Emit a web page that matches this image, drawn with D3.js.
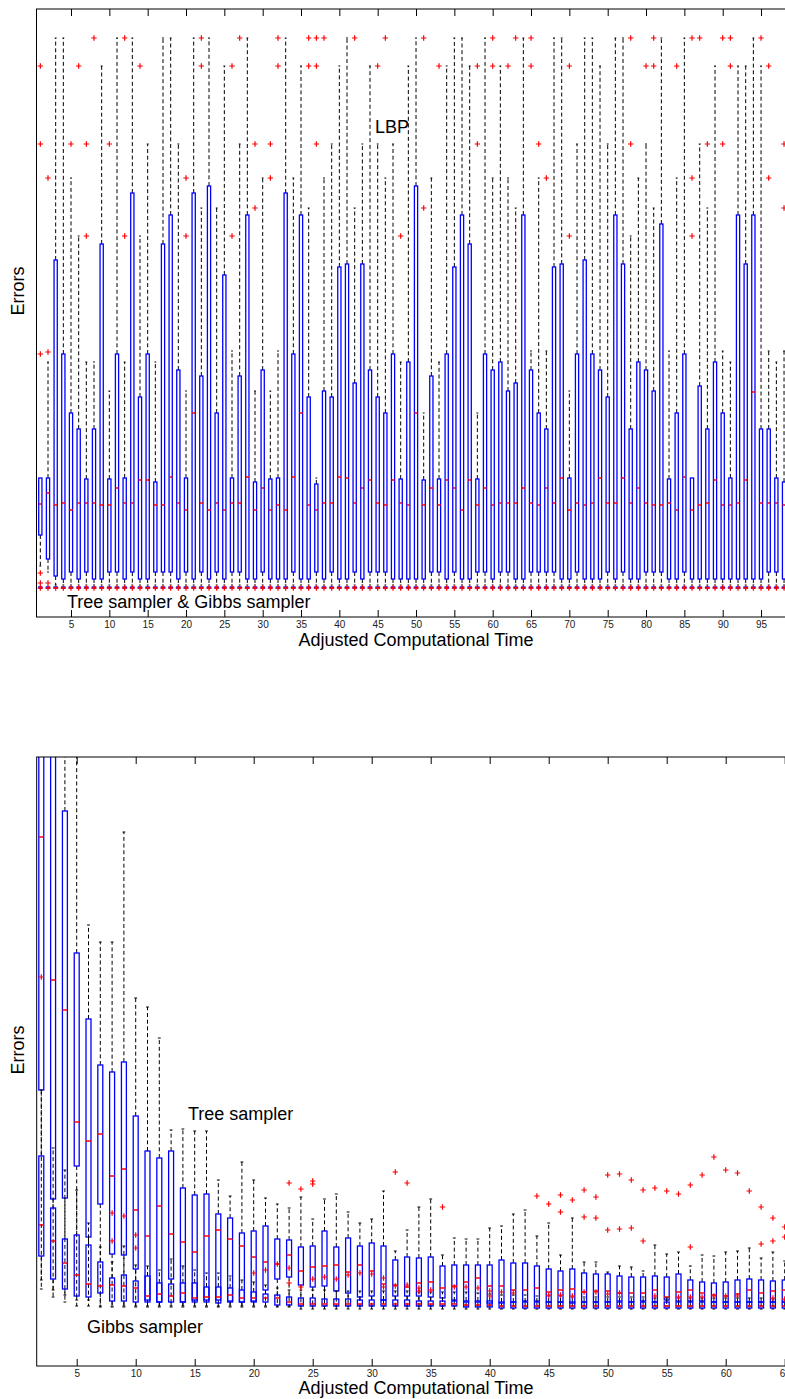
<!DOCTYPE html>
<html><head><meta charset="utf-8"><title>Errors vs Adjusted Computational Time</title>
<script src="https://cdn.jsdelivr.net/npm/d3@7/dist/d3.min.js"></script>
<style>html,body{margin:0;padding:0;background:#fff;overflow:hidden}svg{display:block}text{font-family:"Liberation Sans",Arial,Helvetica,sans-serif}</style>
</head><body>
<svg id="chart" width="785" height="1399"></svg>
<script>
// ---------- TOP PANEL DATA (LBP vs Tree/Gibbs samplers) ----------
const topCategories = d3.range(1, 101);
const topTicks = [5,10,15,20,25,30,35,40,45,50,55,60,65,70,75,80,85,90,95];
const lbpQ3 = [
 11.0,11.0,32.8,23.4,17.5,15.9,10.9,15.9,34.4,10.9,
 23.4,11.0,39.5,19.1,23.4,10.6,34.4,37.3,21.8,11.0,
 39.5,21.2,40.2,17.5,31.3,11.0,21.2,37.3,10.6,21.8,
 10.9,11.0,39.5,23.4,37.3,19.1,10.4,19.7,19.1,32.1,
 32.4,20.5,32.4,21.8,19.1,17.5,23.4,10.9,22.6,40.2,
 10.8,21.2,10.9,23.4,32.1,37.3,34.4,10.9,23.4,21.8,
 22.6,19.7,20.5,37.3,21.8,17.5,15.9,32.1,32.4,11.0,
 23.4,32.8,23.4,21.8,19.1,37.3,32.4,15.9,22.6,21.8,
 19.7,36.4,10.9,17.5,23.4,11.0,20.2,15.9,22.6,17.5,
 11.0,37.3,32.4,37.3,15.9,15.9,11.0,10.6,21.8,19.1];
const lbpQ1 = [
 5.3,2.9,1.2,0.9,1.6,0.9,1.6,0.9,0.9,1.6,
 1.6,0.9,1.6,0.9,0.9,1.6,1.6,1.6,0.9,1.6,
 0.9,1.6,0.9,1.6,0.9,1.6,1.6,0.9,0.9,1.6,
 0.9,0.9,0.9,1.6,0.9,0.9,1.6,0.9,1.6,0.9,
 0.9,1.6,0.9,1.6,1.6,1.6,0.9,0.9,0.9,0.9,
 0.9,1.6,1.6,0.9,1.6,0.9,0.9,1.6,1.6,0.9,
 1.6,1.6,0.9,0.9,1.6,1.6,1.6,1.6,0.9,0.9,
 1.6,0.9,0.9,0.9,1.6,0.9,1.6,0.9,0.9,1.6,
 1.6,1.6,0.9,0.9,1.6,0.9,0.9,0.9,0.9,0.9,
 0.9,0.9,0.9,0.9,0.9,1.6,1.6,0.9,1.6,0.9];
const lbpMed = [
 8.4,9.5,8.3,8.5,7.8,8.5,8.5,8.5,8.3,8.3,
 10.0,8.5,8.5,10.8,10.8,8.3,8.3,11.1,8.5,7.8,
 17.5,8.5,7.8,8.5,7.8,8.5,8.5,11.1,7.8,10.0,
 7.8,8.3,7.8,11.1,17.5,8.3,7.8,8.5,8.5,11.1,
 11.0,8.5,10.0,10.8,8.5,8.3,10.8,8.5,8.3,17.5,
 8.3,10.0,8.3,10.8,10.0,7.8,10.8,8.3,10.0,8.3,
 8.5,8.5,8.5,10.0,8.5,8.3,10.0,8.5,11.0,7.8,
 8.5,8.3,8.5,11.0,8.5,8.5,11.0,8.5,10.0,8.5,
 8.3,8.3,8.5,7.8,11.1,7.8,8.3,8.5,10.8,8.3,
 8.3,8.5,10.8,19.6,8.5,8.5,8.5,8.3,8.5,8.5];
const lbpHi = [
 11.0,22.6,55.0,55.0,41.0,35.2,22.6,22.6,52.2,19.7,
 55.0,22.6,55.0,35.2,44.4,22.6,55.0,55.0,44.4,19.7,
 55.0,38.0,55.0,38.0,52.2,23.7,44.4,55.0,19.7,41.0,
 19.7,23.7,55.0,41.0,52.2,38.0,11.0,41.0,44.4,52.2,
 55.0,38.0,44.4,52.2,44.4,41.0,44.4,22.6,52.2,55.0,
 17.5,41.0,22.6,52.2,55.0,55.0,52.2,17.5,55.0,41.0,
 52.2,41.0,38.0,55.0,23.7,41.0,23.7,55.0,55.0,19.7,
 44.4,55.0,55.0,52.2,44.4,55.0,55.0,35.2,41.0,44.4,
 38.0,55.0,23.7,41.0,55.0,11.0,44.4,38.0,52.2,23.7,
 22.6,52.2,52.2,55.0,52.2,23.7,22.6,23.7,41.0,52.2];
const lbpLo = [
 2.2,1.6,0.3,0.3,0.3,0.3,0.3,0.3,0.3,0.3,
 0.3,0.3,0.3,0.3,0.3,0.3,0.3,0.3,0.3,0.3,
 0.3,0.3,0.3,0.3,0.3,0.3,0.3,0.3,0.3,0.3,
 0.3,0.3,0.3,0.3,0.3,0.3,0.3,0.3,0.3,0.3,
 0.3,0.3,0.3,0.3,0.3,0.3,0.3,0.3,0.3,0.3,
 0.3,0.3,0.3,0.3,0.3,0.3,0.3,0.3,0.3,0.3,
 0.3,0.3,0.3,0.3,0.3,0.3,0.3,0.3,0.3,0.3,
 0.3,0.3,0.3,0.3,0.3,0.3,0.3,0.3,0.3,0.3,
 0.3,0.3,0.3,0.3,0.3,0.3,0.3,0.3,0.3,0.3,
 0.3,0.3,0.3,0.3,0.3,0.3,0.3,0.3,0.3,0.3];
const lbpOutliers = [
 [1,52.2],[1,44.4],[1,23.4],[1,1.5],[1,0.5],[2,41.0],[2,23.6],[2,0.5],
 [5,44.4],[6,52.2],[7,35.2],[7,44.4],[8,55.0],[10,44.4],[12,35.2],[12,55.0],[14,52.2],
 [20,41.0],[20,35.2],[22,55.0],[22,52.2],[26,35.2],[26,52.2],[27,55.0],[29,38.0],[29,44.4],
 [31,41.0],[31,44.4],[32,55.0],[32,52.2],[36,55.0],[36,52.2],[37,55.0],[37,52.2],[37,44.4],[38,55.0],
 [42,55.0],[45,52.2],[46,55.0],[48,35.2],[51,55.0],[51,38.0],[53,52.2],[58,52.2],[58,44.4],
 [60,55.0],[60,52.2],[62,52.2],[63,55.0],[65,55.0],[65,52.2],[66,44.4],[67,41.0],
 [70,35.2],[70,52.2],[78,55.0],[78,44.4],[80,52.2],[81,55.0],[81,52.2],[84,52.2],
 [86,55.0],[86,41.0],[86,35.2],[87,55.0],[88,44.4],[90,55.0],[90,44.4],[91,55.0],[91,52.2],
 [95,55.0],[96,52.2],[96,41.0],[98,44.4],[98,38.0]];
// LBP runs that also reach zero error (outlier at 0)
const lbpFloorOutlier = [
 0,0,0,0,0,0,0,0,0,0, 0,0,0,0,0,0,0,0,0,0, 0,0,0,0,0,0,0,0,0,0, 0,0,0,0,0,0,0,0,0,0,
 0,0,0,0,0,0,0,0,0,0, 0,0,0,0,0,0,0,0,0,0, 0,0,0,0,0,0,0,0,0,0, 0,0,0,0,0,0,0,0,0,0,
 0,0,0,0,0,0,0,0,0,0, 0,0,0,0,0,0,0,0,0,0];
// Tree sampler & Gibbs sampler in top panel: all near zero
const samplerTopQ3 = [
 0.1,0.1,0.1,0.1,0.1,0.1,0.1,0.1,0.1,0.1, 0.1,0.1,0.1,0.1,0.1,0.1,0.1,0.1,0.1,0.1,
 0.1,0.1,0.1,0.1,0.1,0.1,0.1,0.1,0.1,0.1, 0.1,0.1,0.1,0.1,0.1,0.1,0.1,0.1,0.1,0.1,
 0.1,0.1,0.1,0.1,0.1,0.1,0.1,0.1,0.1,0.1, 0.1,0.1,0.1,0.1,0.1,0.1,0.1,0.1,0.1,0.1,
 0.1,0.1,0.1,0.1,0.1,0.1,0.1,0.1,0.1,0.1, 0.1,0.1,0.1,0.1,0.1,0.1,0.1,0.1,0.1,0.1,
 0.1,0.1,0.1,0.1,0.1,0.1,0.1,0.1,0.1,0.1, 0.1,0.1,0.1,0.1,0.1,0.1,0.1,0.1,0.1,0.1];
const samplerTopFloor = 0;

// ---------- BOTTOM PANEL DATA (Tree sampler vs Gibbs sampler) ----------
const botCategories = d3.range(2, 66);
const botTicks = [5,10,15,20,25,30,35,40,45,50,55,60,65];
const treeQ3 = [
 61.0,59.0,49.9,35.7,29.1,24.5,23.8,24.8,19.4,15.9,
 15.2,15.9,12.2,11.5,11.6,9.6,9.2,7.7,7.9,8.4,
 7.1,7.0,6.3,6.4,7.9,6.3,7.2,6.4,6.7,6.4,
 5.0,5.3,5.2,5.3,4.4,4.5,4.5,4.5,4.5,5.0,
 4.7,4.7,4.4,4.1,3.9,4.1,3.7,3.6,3.6,3.4,
 3.3,3.3,3.4,3.3,3.6,3.0,2.8,2.7,2.8,3.0,
 3.1,3.0,2.9,3.0];
const treeQ1 = [
 22.0,11.1,11.2,14.4,7.3,10.6,5.6,5.5,4.1,1.0,
 0.8,3.1,0.8,1.0,1.0,1.0,0.9,0.8,0.9,2.0,
 3.1,3.3,2.5,2.3,2.4,1.9,1.7,1.3,1.4,1.0,
 1.4,1.4,1.4,1.3,1.2,1.0,0.8,0.8,0.7,0.7,
 0.8,0.9,0.9,0.8,0.8,0.7,0.8,0.8,0.8,0.9,
 0.8,0.9,0.8,1.0,0.9,0.9,0.9,0.8,0.8,0.8,
 0.8,0.8,0.8,0.8];
const treeMed = [
 47.3,33.0,30.0,18.8,16.9,17.6,13.4,14.1,10.0,7.4,
 10.4,7.6,6.8,5.8,7.4,8.0,7.1,6.4,5.3,4.8,
 4.6,5.5,3.9,4.3,4.4,4.5,3.8,4.5,3.9,2.6,
 2.5,2.3,2.7,2.8,2.2,2.4,2.8,3.2,2.4,2.4,
 2.0,2.0,2.2,1.8,2.0,2.1,1.8,1.9,1.9,1.7,
 1.7,1.7,2.0,1.3,1.8,2.0,1.7,1.5,1.4,1.6,
 2.0,1.7,1.9,2.0];
const treeHi = [
 66.0,66.0,66.0,61.0,38.5,36.8,36.8,47.8,31.2,30.3,
 27.2,18.0,18.1,17.9,17.9,13.0,11.4,14.8,13.0,11.2,
 10.6,10.2,11.3,9.1,11.1,11.6,9.8,8.7,9.1,11.9,
 5.9,8.0,10.3,11.1,5.5,7.2,7.1,7.1,8.2,8.4,
 9.6,10.0,7.4,8.7,5.5,9.2,4.8,4.8,3.8,4.4,
 4.3,3.9,6.5,5.6,5.8,4.4,5.5,5.4,5.8,5.9,
 6.2,5.2,5.8,4.9];
const treeLo = [
 3.0,2.0,1.5,1.0,1.0,0.4,0.4,0.4,0.4,0.4,
 0.4,0.4,0.4,0.4,0.4,0.4,0.4,0.4,0.4,0.4,
 0.4,0.4,0.4,0.4,0.4,0.4,0.4,0.4,0.4,0.4,
 0.4,0.4,0.4,0.4,0.4,0.4,0.4,0.4,0.4,0.4,
 0.4,0.4,0.4,0.4,0.4,0.4,0.4,0.4,0.4,0.4,
 0.4,0.4,0.4,0.4,0.4,0.4,0.4,0.4,0.4,0.4,
 0.4,0.4,0.4,0.4];
const treeOutliers = [
 [23,12.7],[24,12.1],[25,12.9],[25,12.6],[32,13.8],[33,12.7],[36,10.3],[44,11.4],[45,10.6],
 [46,11.5],[46,9.8],[47,11.0],[48,12.0],[48,9.3],[49,11.3],[49,9.2],[50,13.5],[50,8.0],
 [51,13.6],[51,8.1],[52,13.0],[52,8.2],[53,12.0],[53,6.9],[54,12.2],[55,11.9],[56,11.6],
 [57,12.5],[57,6.3],[58,13.5],[59,15.3],[60,14.0],[61,13.7],[62,11.9],[63,10.3],[63,6.6],
 [64,9.2],[64,6.9],[65,8.3],[65,7.3]];
const gibbsQ3 = [
 15.4,10.2,7.1,7.5,6.5,4.8,3.2,3.5,2.9,3.4,
 2.7,2.6,2.7,2.7,2.3,2.3,2.2,2.0,1.8,1.6,
 1.5,1.3,1.2,1.2,1.1,1.1,1.1,1.0,1.0,1.0,
 1.0,1.0,0.9,0.9,0.9,0.9,0.9,0.9,0.9,0.8,
 0.8,0.8,0.8,0.8,0.8,0.8,0.8,0.8,0.8,0.8,
 0.8,0.8,0.8,0.8,0.8,0.8,0.8,0.8,0.8,0.8,
 0.8,0.8,0.8,0.8];
const gibbsQ1 = [
 5.4,3.1,2.1,1.4,1.3,1.7,0.9,0.9,0.8,0.8,
 0.8,0.8,0.8,0.8,0.8,0.7,0.8,0.8,0.8,0.8,
 0.5,0.5,0.4,0.4,0.4,0.4,0.4,0.4,0.4,0.4,
 0.4,0.4,0.4,0.4,0.4,0.4,0.3,0.3,0.3,0.2,
 0.2,0.2,0.2,0.2,0.2,0.2,0.2,0.2,0.2,0.2,
 0.2,0.2,0.2,0.2,0.2,0.2,0.2,0.2,0.2,0.2,
 0.2,0.2,0.2,0.2];
const gibbsMed = [
 8.5,6.9,4.7,3.5,2.6,2.4,2.5,2.4,2.2,1.4,
 1.6,1.4,1.7,1.2,1.3,1.3,1.5,1.2,1.2,1.2,
 1.2,0.8,0.6,0.6,0.6,0.6,0.6,0.6,0.6,0.6,
 0.6,0.6,0.6,0.6,0.6,0.6,0.5,0.5,0.5,0.4,
 0.4,0.4,0.4,0.4,0.4,0.4,0.4,0.4,0.4,0.4,
 0.4,0.4,0.4,0.4,0.4,0.4,0.4,0.4,0.4,0.4,
 0.4,0.4,0.4,0.4];
const gibbsHi = [
 22.0,16.2,14.0,12.0,8.7,6.3,4.8,6.4,4.5,4.4,
 4.0,5.1,4.4,4.0,3.7,3.7,3.4,3.0,2.8,2.5,
 2.2,2.0,2.0,2.0,2.0,1.9,1.9,1.9,1.9,1.9,
 1.9,1.9,1.8,1.8,1.8,1.8,1.8,1.7,1.6,1.5,
 1.5,1.5,1.4,1.4,1.4,1.3,1.3,1.3,1.3,1.3,
 1.3,1.3,1.2,1.2,1.2,1.2,1.2,1.2,1.2,1.2,
 1.2,1.2,1.1,1.0];
const gibbsLo = [
 2.1,1.3,0.8,0.4,0.4,0.3,0.3,0.3,0.3,0.3,
 0.3,0.3,0.3,0.3,0.3,0.3,0.3,0.3,0.3,0.3,
 0.3,0.3,0.1,0.1,0.1,0.1,0.1,0.1,0.1,0.1,
 0.1,0.1,0.1,0.1,0.1,0.1,0.1,0.1,0.1,0.1,
 0.1,0.1,0.1,0.1,0.1,0.1,0.1,0.1,0.1,0.1,
 0.1,0.1,0.1,0.1,0.1,0.1,0.1,0.1,0.1,0.1,
 0.1,0.1,0.1,0.1];
const gibbsOutliers = [
 [2,33.3],[8,9.7],[8,6.9],[9,9.4],[10,7.5],[10,6.2],[20,3.7],[21,4.0],[22,4.6],[23,4.2],[23,2.7],
 [24,2.3],[25,3.1],[26,3.3],[27,3.1],[28,3.5],[29,3.7],[30,3.6],[31,3.2],[31,2.3],[32,2.4],[33,2.5],
 [34,2.2],[34,1.9],[35,2.0],[37,2.3],[38,2.3],[39,2.2],[40,1.9],[40,1.4],[41,1.8],[42,1.7],
 [45,1.5],[46,1.5],[47,1.4],[48,1.8],[49,1.8],[50,1.6],[51,1.7],[54,1.4],[56,1.3],[57,1.3],
 [58,1.3],[59,1.4],[60,1.4],[61,1.4],[64,1.2],[65,1.1]];

// ---------- DRAWING ----------
const svg = d3.select('#chart');
const FONT = '"Liberation Sans",Arial,Helvetica,sans-serif';

const xTop = d3.scaleLinear().domain([0.5, 100.5]).range([36.5, 803.2]);
const yTop = d3.scaleLinear().domain([-2.9, 57.9]).range([617, 9]);
const xBot = d3.scaleLinear().domain([1.61, 66.5]).range([36.7, 802.4]);
const yBot = d3.scaleLinear().domain([-5.6, 55.3]).range([1366, 757]);

const defs = svg.append('defs');
function clipFor(id, xs, ys) {
  const [x0, x1] = xs.range(); const [y1, y0] = ys.range();
  defs.append('clipPath').attr('id', id).append('rect')
    .attr('x', x0).attr('y', y0).attr('width', x1 - x0).attr('height', y1 - y0);
}
clipFor('clipTop', xTop, yTop);
clipFor('clipBot', xBot, yBot);

const BOXW = 0.21, CAPW = 0.12;
function drawBoxes(g, xs, ys, d) {
  const dash = '4,2.7';
  g.selectAll(null).data(d.filter(e => e.hi > e.q3)).join('line')
    .attr('x1', e => xs(e.p)).attr('x2', e => xs(e.p))
    .attr('y1', e => ys(e.q3)).attr('y2', e => ys(e.hi))
    .attr('stroke', '#000').attr('stroke-width', 1).attr('stroke-dasharray', dash);
  g.selectAll(null).data(d.filter(e => e.lo < e.q1)).join('line')
    .attr('x1', e => xs(e.p)).attr('x2', e => xs(e.p))
    .attr('y1', e => ys(e.q1)).attr('y2', e => ys(e.lo))
    .attr('stroke', '#000').attr('stroke-width', 1).attr('stroke-dasharray', dash);
  g.selectAll(null).data(d.filter(e => e.hi > e.q3)).join('line')
    .attr('x1', e => xs(e.p - CAPW)).attr('x2', e => xs(e.p + CAPW))
    .attr('y1', e => ys(e.hi)).attr('y2', e => ys(e.hi))
    .attr('stroke', '#000').attr('stroke-width', 1);
  g.selectAll(null).data(d.filter(e => e.lo < e.q1)).join('line')
    .attr('x1', e => xs(e.p - CAPW)).attr('x2', e => xs(e.p + CAPW))
    .attr('y1', e => ys(e.lo)).attr('y2', e => ys(e.lo))
    .attr('stroke', '#000').attr('stroke-width', 1);
  g.selectAll(null).data(d).join('rect')
    .attr('x', e => xs(e.p - BOXW)).attr('width', e => xs(e.p + BOXW) - xs(e.p - BOXW))
    .attr('y', e => ys(e.q3)).attr('height', e => Math.max(0.01, ys(e.q1) - ys(e.q3)))
    .attr('fill', 'none').attr('stroke', '#0000ff').attr('stroke-width', 1.3);
  g.selectAll(null).data(d).join('line')
    .attr('x1', e => xs(e.p - BOXW)).attr('x2', e => xs(e.p + BOXW))
    .attr('y1', e => ys(e.med)).attr('y2', e => ys(e.med))
    .attr('stroke', '#ff0000').attr('stroke-width', 1.5);
}
function drawOutliers(g, xs, ys, pts) {
  const s = 2.7;
  g.selectAll(null).data(pts).join('path')
    .attr('d', ([p, v]) => { const x = xs(p), y = ys(v);
      return `M${x - s},${y}H${x + s}M${x},${y - s}V${y + s}`; })
    .attr('stroke', '#ff0000').attr('stroke-width', 1.2).attr('fill', 'none');
}
function frame(xs, ys, ticks) {
  const [x0, x1] = xs.range(); const [y1, y0] = ys.range();
  const gb = svg.append('g').attr('transform', `translate(0,${y1})`)
    .call(d3.axisBottom(xs).tickValues(ticks).tickSizeInner(-7).tickSizeOuter(0).tickPadding(4).tickFormat(d3.format('d')));
  gb.select('.domain').remove();
  gb.attr('font-family', FONT).attr('font-size', 10);
  gb.selectAll('text').attr('fill', '#222');
  const gt = svg.append('g').attr('transform', `translate(0,${y0})`)
    .call(d3.axisTop(xs).tickValues(ticks).tickSizeInner(-7).tickSizeOuter(0).tickFormat(''));
  gt.select('.domain').remove();
  svg.append('rect').attr('x', x0).attr('y', y0).attr('width', x1 - x0).attr('height', y1 - y0)
    .attr('fill', 'none').attr('stroke', '#000').attr('stroke-width', 1);
}

// top panel
const gTop = svg.append('g').attr('clip-path', 'url(#clipTop)');
drawBoxes(gTop, xTop, yTop, topCategories.map((p, i) => ({p, q1: samplerTopFloor, med: samplerTopFloor, q3: samplerTopQ3[i], lo: samplerTopFloor, hi: samplerTopFloor})));
drawBoxes(gTop, xTop, yTop, topCategories.map((p, i) => ({p, q1: lbpQ1[i], med: lbpMed[i], q3: lbpQ3[i], lo: lbpLo[i], hi: lbpHi[i]})));
drawOutliers(gTop, xTop, yTop, lbpOutliers.concat(topCategories.map((p, i) => [p, lbpFloorOutlier[i]])));
frame(xTop, yTop, topTicks);

// bottom panel
const gBot = svg.append('g').attr('clip-path', 'url(#clipBot)');
drawBoxes(gBot, xBot, yBot, botCategories.map((p, i) => ({p, q1: treeQ1[i], med: treeMed[i], q3: treeQ3[i], lo: treeLo[i], hi: treeHi[i]})));
drawBoxes(gBot, xBot, yBot, botCategories.map((p, i) => ({p, q1: gibbsQ1[i], med: gibbsMed[i], q3: gibbsQ3[i], lo: gibbsLo[i], hi: gibbsHi[i]})));
drawOutliers(gBot, xBot, yBot, treeOutliers.concat(gibbsOutliers));
frame(xBot, yBot, botTicks);

// text labels
function label(txt, x, y, size, anchor, rot) {
  const t = svg.append('text').text(txt).attr('font-family', FONT).attr('font-size', size)
    .attr('fill', '#000').attr('text-anchor', anchor || 'start');
  if (rot) t.attr('transform', `translate(${x},${y}) rotate(-90)`); else t.attr('x', x).attr('y', y);
}
label('LBP', 375, 133, 18);
label('Tree sampler & Gibbs sampler', 67, 608, 18);
label('Adjusted Computational Time', 416, 646, 18, 'middle');
label('Errors', 24, 291, 18, 'middle', true);
label('Tree sampler', 188, 1120, 18);
label('Gibbs sampler', 87, 1333, 18);
label('Adjusted Computational Time', 416, 1394, 18, 'middle');
label('Errors', 24, 1050, 18, 'middle', true);
</script>
</body></html>
